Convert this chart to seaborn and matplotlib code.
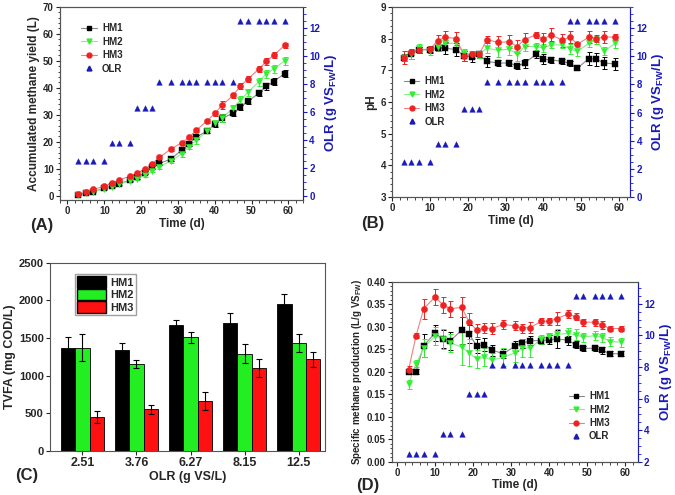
import numpy as np
import pandas as pd
import seaborn as sns
from matplotlib import pyplot as plt
from matplotlib.patches import Patch

# ---- data ----
days = [3, 5, 7, 10, 12, 14, 17, 19, 21, 23, 25, 28, 31, 33, 35, 38, 40, 42, 45, 47, 49, 52, 54, 56, 59]
olr_days = [2.51, 2.51, 2.51, 2.51, 3.76, 3.76, 3.76, 6.27, 6.27, 6.27,
            8.15, 8.15, 8.15, 8.15, 8.15, 8.15, 8.15, 8.15, 8.15,
            12.5, 12.5, 12.5, 12.5, 12.5, 12.5]

yield_hm1 = [0.3, 0.9, 1.5, 2.7, 3.5, 4.5, 5.7, 6.8, 8.5, 10.5, 12.0, 13.5, 16.8, 19.2, 21.8, 24.0, 26.5, 28.8, 30.5, 32.7, 35.0, 38.0, 40.5, 42.3, 45.3]
yield_hm2 = [0.3, 0.9, 1.5, 2.5, 3.3, 4.3, 5.5, 6.3, 7.7, 9.3, 10.8, 12.8, 15.5, 18.2, 20.5, 24.0, 26.8, 28.8, 32.5, 35.5, 38.3, 42.3, 45.2, 47.0, 50.0]
yield_hm3 = [0.5, 1.2, 2.3, 3.5, 4.6, 5.8, 7.2, 8.5, 9.8, 11.8, 14.2, 17.2, 19.6, 21.6, 24.3, 27.8, 30.5, 33.5, 37.2, 40.7, 43.2, 47.0, 49.8, 52.1, 55.7]
yield_err1 = [0.2, 0.2, 0.3, 0.3, 0.3, 0.4, 0.4, 0.5, 0.5, 0.6, 0.6, 0.6, 0.7, 0.8, 0.8, 0.8, 0.9, 1.5, 0.9, 1.0, 1.0, 1.0, 1.2, 1.2, 1.2]
yield_err2 = [0.2, 0.2, 0.3, 0.3, 0.4, 0.4, 0.5, 0.5, 0.6, 0.7, 0.8, 0.8, 1.0, 1.0, 1.2, 0.8, 1.0, 1.5, 1.2, 1.3, 1.3, 1.5, 1.5, 1.5, 1.5]
yield_err3 = [0.2, 0.3, 0.3, 0.4, 0.4, 0.5, 0.5, 0.5, 0.6, 0.6, 0.7, 0.7, 0.7, 0.7, 0.8, 0.8, 0.9, 1.5, 1.0, 1.0, 1.0, 1.0, 1.2, 1.0, 1.0]

ph_hm1 = [7.4, 7.5, 7.65, 7.65, 7.7, 7.7, 7.65, 7.45, 7.42, 7.5, 7.28, 7.23, 7.23, 7.13, 7.22, 7.5, 7.35, 7.33, 7.28, 7.22, 7.07, 7.37, 7.35, 7.23, 7.2]
ph_hm2 = [7.4, 7.52, 7.7, 7.62, 7.75, 7.85, 7.85, 7.55, 7.5, 7.5, 7.7, 7.63, 7.67, 7.5, 7.75, 7.75, 7.7, 7.8, 7.8, 7.67, 7.6, 7.85, 7.95, 7.6, 7.85]
ph_hm3 = [7.4, 7.57, 7.63, 7.68, 7.92, 8.05, 8.0, 7.45, 7.5, 7.5, 7.97, 7.88, 7.9, 7.75, 7.97, 8.12, 7.98, 8.12, 7.95, 8.05, 7.82, 8.05, 8.0, 8.05, 8.05]
ph_err1 = [0.12, 0.15, 0.1, 0.1, 0.1, 0.2, 0.2, 0.15, 0.15, 0.1, 0.18, 0.08, 0.08, 0.08, 0.15, 0.1, 0.15, 0.1, 0.08, 0.08, 0.06, 0.2, 0.2, 0.18, 0.18]
ph_err2 = [0.12, 0.15, 0.12, 0.15, 0.15, 0.12, 0.1, 0.12, 0.12, 0.1, 0.15, 0.2, 0.2, 0.2, 0.15, 0.1, 0.12, 0.1, 0.1, 0.15, 0.15, 0.12, 0.12, 0.12, 0.15]
ph_err3 = [0.2, 0.1, 0.1, 0.1, 0.2, 0.2, 0.2, 0.15, 0.1, 0.08, 0.1, 0.2, 0.2, 0.2, 0.2, 0.1, 0.2, 0.2, 0.2, 0.2, 0.05, 0.2, 0.1, 0.2, 0.1]

olr_levels = ['2.51', '3.76', '6.27', '8.15', '12.5']
tvfa_hm1 = [1370, 1340, 1680, 1700, 1950]
tvfa_hm2 = [1370, 1155, 1510, 1295, 1435]
tvfa_hm3 = [450, 555, 665, 1105, 1220]
tvfa_err1 = [140, 100, 60, 130, 140]
tvfa_err2 = [180, 50, 70, 125, 120]
tvfa_err3 = [75, 60, 115, 120, 100]

smp_hm1 = [0.20, 0.20, 0.258, 0.286, 0.272, 0.269, 0.292, 0.283, 0.257, 0.260, 0.248, 0.240, 0.257, 0.263, 0.269, 0.269, 0.271, 0.273, 0.270, 0.260, 0.252, 0.252, 0.248, 0.240, 0.240]
smp_hm2 = [0.172, 0.218, 0.253, 0.280, 0.272, 0.264, 0.255, 0.242, 0.228, 0.232, 0.226, 0.232, 0.242, 0.252, 0.253, 0.272, 0.279, 0.283, 0.285, 0.282, 0.277, 0.280, 0.277, 0.267, 0.266]
smp_hm3 = [0.204, 0.280, 0.340, 0.366, 0.349, 0.340, 0.343, 0.310, 0.292, 0.297, 0.296, 0.305, 0.302, 0.297, 0.298, 0.312, 0.312, 0.318, 0.328, 0.322, 0.310, 0.310, 0.304, 0.296, 0.296]
smp_err1 = [0.005, 0.005, 0.025, 0.018, 0.02, 0.02, 0.03, 0.02, 0.015, 0.015, 0.012, 0.01, 0.012, 0.01, 0.01, 0.008, 0.01, 0.02, 0.01, 0.008, 0.006, 0.006, 0.008, 0.006, 0.006]
smp_err2 = [0.01, 0.008, 0.02, 0.02, 0.022, 0.02, 0.04, 0.03, 0.02, 0.02, 0.015, 0.02, 0.02, 0.02, 0.02, 0.01, 0.008, 0.012, 0.012, 0.012, 0.01, 0.01, 0.01, 0.01, 0.01]
smp_err3 = [0.008, 0.006, 0.022, 0.018, 0.018, 0.018, 0.022, 0.02, 0.015, 0.012, 0.012, 0.01, 0.01, 0.01, 0.012, 0.008, 0.008, 0.015, 0.008, 0.008, 0.008, 0.008, 0.008, 0.006, 0.006]

# ---- style ----
sns.set_style("ticks")
plt.rcParams['font.family'] = ['Liberation Sans', 'DejaVu Sans']
plt.rcParams['font.weight'] = 'bold'
plt.rcParams['axes.labelweight'] = 'bold'
plt.rcParams['mathtext.fontset'] = 'custom'
plt.rcParams['mathtext.bf'] = 'Liberation Sans:bold'
plt.rcParams['mathtext.rm'] = 'Liberation Sans:bold'
plt.rcParams['mathtext.default'] = 'bf'
plt.rcParams['axes.edgecolor'] = '#555555'
plt.rcParams['axes.linewidth'] = 0.8

BLUE = '#1a1ab8'
series_style = {
    'HM1': dict(mcol='black', lcol='#888888', marker='s'),
    'HM2': dict(mcol='#33ee33', lcol='#88ee88', marker='v'),
    'HM3': dict(mcol='#ee2222', lcol='#f08080', marker='o'),
}
OLR_LABEL = 'OLR (g VS$_{FW}$/L)'

fig = plt.figure(figsize=(6.75, 4.95), dpi=100)


def style_ticks(ax, size=7):
    ax.tick_params(direction='out', length=3, width=0.8, labelsize=size, pad=1.5)
    ax.minorticks_on()
    ax.tick_params(which='minor', direction='out', length=1.8, width=0.6)
    for lab in ax.get_xticklabels() + ax.get_yticklabels():
        lab.set_fontweight('bold')


def time_panel(rect, series, errs, ylabel, ylim, yticks, r_ylim, r_ticks, xlim, leg_pos, ylab_size=8.5):
    ax = fig.add_axes(rect)
    handles = []
    for (name, vals), err in zip(series.items(), errs):
        st = series_style[name]
        sns.lineplot(x=days, y=vals, ax=ax, color=st['lcol'], lw=0.8, zorder=2)
        ax.errorbar(days, vals, yerr=err, fmt='none', ecolor=st['mcol'], elinewidth=0.7,
                    capsize=1.8, capthick=0.7, zorder=3)
        sns.scatterplot(x=days, y=vals, ax=ax, color=st['mcol'], marker=st['marker'],
                        s=20, edgecolor=st['mcol'], linewidth=0.3, zorder=4)
        handles.append(plt.Line2D([], [], color=st['lcol'], lw=0.8, marker=st['marker'],
                                  markersize=3.5, markerfacecolor=st['mcol'],
                                  markeredgecolor=st['mcol'], label=name))
    ax.set_xlim(*xlim)
    ax.set_ylim(*ylim)
    ax.set_yticks(yticks)
    ax.set_xticks([0, 10, 20, 30, 40, 50, 60])
    ax.set_xlabel('Time (d)', fontsize=8.5, labelpad=1)
    ax.set_ylabel(ylabel, fontsize=ylab_size, labelpad=2)
    style_ticks(ax)

    ax2 = ax.twinx()
    sns.scatterplot(x=days, y=olr_days, ax=ax2, color=BLUE, marker='^', s=16,
                    edgecolor=BLUE, linewidth=0.3)
    ax2.set_ylim(*r_ylim)
    ax2.set_yticks(r_ticks)
    ax2.set_ylabel(OLR_LABEL, color=BLUE, fontsize=9.5, labelpad=2)
    ax2.spines['right'].set_color(BLUE)
    style_ticks(ax2)
    ax2.tick_params(axis='y', which='both', colors=BLUE)
    for lab in ax2.get_yticklabels():
        lab.set_color(BLUE)
    handles.append(plt.Line2D([], [], ls='none', marker='^', color=BLUE, markersize=3.5, label='OLR'))
    ax2.legend(handles=handles, loc='upper left', bbox_to_anchor=leg_pos, frameon=False,
               fontsize=7, handlelength=1.6, handletextpad=0.5, labelspacing=0.35,
               borderpad=0.2)
    return ax


# (A) accumulated methane yield
time_panel([0.089, 0.596, 0.360, 0.390],
           {'HM1': yield_hm1, 'HM2': yield_hm2, 'HM3': yield_hm3},
           [yield_err1, yield_err2, yield_err3],
           'Accumulated methane yield (L)', (-1.6, 70), range(0, 71, 10),
           (-0.3, 13.5), range(0, 13, 2), (-2, 64), (0.06, 0.95))
fig.text(0.045, 0.535, '(A)', fontsize=12, fontweight='bold')

# (B) pH
time_panel([0.581, 0.602, 0.353, 0.384],
           {'HM1': ph_hm1, 'HM2': ph_hm2, 'HM3': ph_hm3},
           [ph_err1, ph_err2, ph_err3],
           'pH', (3, 9), range(3, 10),
           (0, 13.5), range(0, 13, 2), (0, 63), (0.02, 0.67))
fig.text(0.535, 0.54, '(B)', fontsize=12, fontweight='bold')

# (C) TVFA bars
axc = fig.add_axes([0.074, 0.089, 0.407, 0.380])
tvfa = pd.DataFrame({
    'OLR': olr_levels * 3,
    'TVFA': tvfa_hm1 + tvfa_hm2 + tvfa_hm3,
    'Reactor': ['HM1'] * 5 + ['HM2'] * 5 + ['HM3'] * 5,
})
bar_cols = ['black', '#22ee22', '#ff1111']
sns.barplot(data=tvfa, x='OLR', y='TVFA', hue='Reactor', palette=bar_cols, ax=axc,
            errorbar=None, width=0.8, edgecolor='black', linewidth=0.6, saturation=1)
for cont, err in zip(axc.containers, [tvfa_err1, tvfa_err2, tvfa_err3]):
    xs = [b.get_x() + b.get_width() / 2 for b in cont]
    ys = [b.get_height() for b in cont]
    axc.errorbar(xs, ys, yerr=err, fmt='none', ecolor='black', elinewidth=0.8,
                 capsize=2.5, capthick=0.8)
axc.set_xlim(-0.6, 4.48)
axc.set_ylim(0, 2500)
axc.set_yticks(range(0, 2501, 500))
axc.set_xlabel('OLR (g VS/L)', fontsize=9, labelpad=1)
axc.set_ylabel('TVFA (mg COD/L)', fontsize=9, labelpad=2)
axc.tick_params(direction='out', length=3, width=0.8, labelsize=8, pad=1.5)
axc.tick_params(axis='x', labelsize=9)
for lab in axc.get_xticklabels() + axc.get_yticklabels():
    lab.set_fontweight('bold')
axc.legend(handles=[Patch(facecolor=c, edgecolor='black', label=l)
                    for c, l in zip(bar_cols, ['HM1', 'HM2', 'HM3'])],
           loc='upper left', bbox_to_anchor=(0.07, 0.97), fontsize=8, frameon=True,
           fancybox=False, edgecolor='#888888', handlelength=2.6, handleheight=1.2,
           handletextpad=0.4, labelspacing=0.1, borderpad=0.2)
fig.text(0.022, 0.03, '(C)', fontsize=12, fontweight='bold')

# (D) specific methane production
time_panel([0.581, 0.067, 0.364, 0.364],
           {'HM1': smp_hm1, 'HM2': smp_hm2, 'HM3': smp_hm3},
           [smp_err1, smp_err2, smp_err3],
           'Specific methane production (L/g VS$_{FW}$)', (0, 0.40),
           np.round(np.arange(0, 0.401, 0.05), 2),
           (2, 13.4), range(2, 13, 2), (-1.3, 63.4), (0.69, 0.43), ylab_size=7)
fig.text(0.527, 0.01, '(D)', fontsize=12, fontweight='bold')

fig.savefig('out.png', dpi=100)
